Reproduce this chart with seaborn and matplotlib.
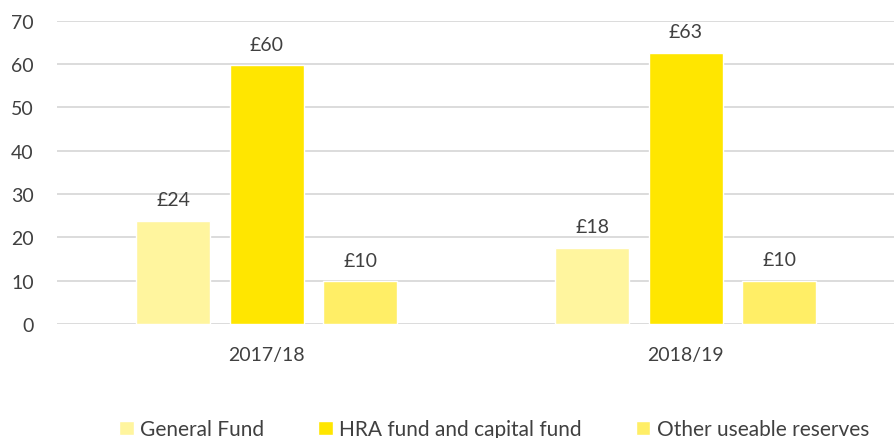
import pandas as pd
import numpy as np
import matplotlib.pyplot as plt
import seaborn as sns

years = ["2017/18", "2018/19"]
funds = ["General Fund", "HRA fund and capital fund", "Other useable reserves"]
general_fund = [23.8, 17.6]
hra_fund = [59.8, 62.6]
other_reserves = [9.9, 10.0]
colors = ["#FFF59E", "#FFE600", "#FFEE66"]

df = pd.DataFrame({
    "year": years * 3,
    "fund": [funds[0]] * 2 + [funds[1]] * 2 + [funds[2]] * 2,
    "value": general_fund + hra_fund + other_reserves,
})

sns.set_theme(style="white")
plt.rcParams["font.family"] = ["Lato", "DejaVu Sans"]
text_col = "#404040"

fig = plt.figure(figsize=(8.95, 4.39), dpi=100)
ax = fig.add_axes([0.064, 0.26, 0.936, 0.69])

sns.barplot(df, x="year", y="value", hue="fund", palette=colors, ax=ax,
            width=0.67, gap=0.21, saturation=1, errorbar=None)

for cont in ax.containers:
    ax.bar_label(cont, labels=[f"£{v:.0f}" for v in cont.datavalues],
                 padding=9, fontsize=14, color=text_col)

ax.set_ylim(0, 70)
ax.set_yticks(range(0, 71, 10))
ax.grid(axis="y", color="#D9D9D9", linewidth=1.3)
ax.set_axisbelow(True)
for s in ax.spines.values():
    s.set_visible(False)
ax.set_xlabel("")
ax.set_ylabel("")
ax.tick_params(axis="both", length=0, labelsize=14, labelcolor=text_col)
ax.tick_params(axis="x", pad=16)
ax.tick_params(axis="y", pad=17)

handles, labels = ax.get_legend_handles_labels()
ax.get_legend().remove()
fig.legend(handles, labels, loc="center", bbox_to_anchor=(0.552, 0.02), ncol=3,
           frameon=False, fontsize=15, handlelength=0.7, handleheight=0.7,
           handletextpad=0.3, columnspacing=2.6, labelcolor=text_col)

fig.savefig("out.png", dpi=100)
